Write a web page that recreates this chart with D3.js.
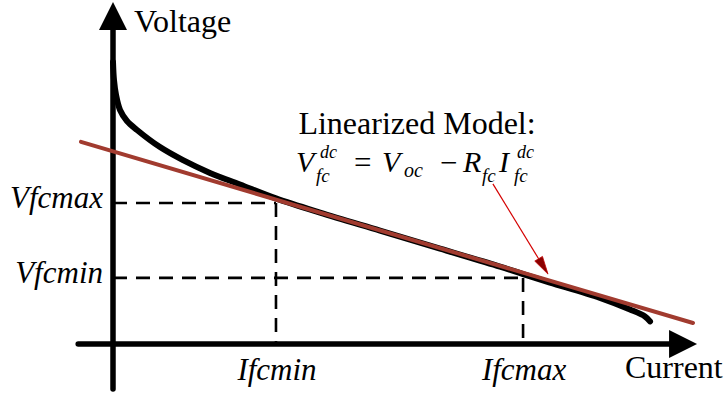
<!DOCTYPE html>
<html>
<head>
<meta charset="utf-8">
<script src="https://cdn.jsdelivr.net/npm/d3@7/dist/d3.min.js"></script>
<style>
  html, body { margin: 0; padding: 0; background: #fff; }
  svg { display: block; }
</style>
</head>
<body>
<svg id="chart" width="725" height="396" font-family="'Liberation Serif', 'Times New Roman', serif"></svg>
<script>
// Fuel-cell polarization curve (current vs. voltage, arbitrary units)
const curveCurrent = [0, 0.17, 0.52, 1.21, 2.41, 4.14, 8.10, 12.07, 16.72, 21.90, 28.10, 35.69, 46.03, 56.38, 66.72, 70.69, 75.34, 83.97, 89.14, 91.72, 92.59];
const curveVoltage = [97.2, 91.0, 85.9, 80.7, 76.9, 73.8, 67.9, 63.4, 59.0, 55.0, 50.2, 45.3, 39.1, 32.9, 26.7, 24.1, 21.2, 15.9, 11.9, 9.5, 7.8];

// Linearized model endpoints
const modelCurrent = [-5.52, 100];
const modelVoltage = [69.7, 7.24];

// Operating window tick labels
const voltageTickLabels = ["Vfcmax", "Vfcmin"];
const voltageTickValues = [48.6, 22.8];
const currentTickLabels = ["Ifcmin", "Ifcmax"];
const currentTickValues = [28.1, 70.7];

// Axis extents (data units)
const currentAxisExtent = [-6, 100.7];
const voltageAxisExtent = [-15.5, 117.9];

// Annotation arrow (data units): from label down to the model line
const pointerCurrent = [65.5, 75.0];
const pointerVoltage = [55.2, 24.1];

const svg = d3.select("#chart");

const x = d3.scaleLinear().domain([0, 100]).range([113, 693]);
const y = d3.scaleLinear().domain([0, 100]).range([344, 54]);

// ---- dashed guide lines for the operating window
const guides = svg.append("g")
  .attr("stroke", "#000")
  .attr("stroke-width", 2.6)
  .attr("stroke-dasharray", "14,9")
  .attr("fill", "none");

voltageTickValues.forEach((v, i) => {
  const c = currentTickValues[i];
  guides.append("line")
    .attr("x1", x(0)).attr("x2", x(c))
    .attr("y1", y(v)).attr("y2", y(v));
  guides.append("line")
    .attr("x1", x(c)).attr("x2", x(c))
    .attr("y1", y(v)).attr("y2", y(0));
});

// ---- axes with arrowheads
const axes = svg.append("g");
const axisWidth = 5.5;
const headLen = 28, headHalf = 14;

axes.append("line")
  .attr("x1", x(currentAxisExtent[0])).attr("x2", x(currentAxisExtent[1]) - headLen + 2)
  .attr("y1", y(0)).attr("y2", y(0))
  .attr("stroke", "#000").attr("stroke-width", axisWidth).attr("stroke-linecap", "round");
axes.append("path")
  .attr("d", `M${x(currentAxisExtent[1])},${y(0)} L${x(currentAxisExtent[1]) - headLen},${y(0) - headHalf} L${x(currentAxisExtent[1]) - headLen},${y(0) + headHalf} Z`)
  .attr("fill", "#000");

axes.append("line")
  .attr("x1", x(0)).attr("x2", x(0))
  .attr("y1", y(voltageAxisExtent[0])).attr("y2", y(voltageAxisExtent[1]) + headLen - 2)
  .attr("stroke", "#000").attr("stroke-width", axisWidth).attr("stroke-linecap", "round");
axes.append("path")
  .attr("d", `M${x(0)},${y(voltageAxisExtent[1])} L${x(0) - headHalf},${y(voltageAxisExtent[1]) + headLen} L${x(0) + headHalf},${y(voltageAxisExtent[1]) + headLen} Z`)
  .attr("fill", "#000");

// ---- polarization curve
const curveData = curveCurrent.map((c, i) => [c, curveVoltage[i]]);
const line = d3.line()
  .x(d => x(d[0]))
  .y(d => y(d[1]))
  .curve(d3.curveCatmullRom.alpha(0.5));

svg.append("path")
  .datum(curveData)
  .attr("d", line)
  .attr("fill", "none")
  .attr("stroke", "#000")
  .attr("stroke-width", 6)
  .attr("stroke-linecap", "round")
  .attr("stroke-linejoin", "round");

// ---- linearized model
const modelData = modelCurrent.map((c, i) => [c, modelVoltage[i]]);
svg.append("path")
  .datum(modelData)
  .attr("d", d3.line().x(d => x(d[0])).y(d => y(d[1])))
  .attr("fill", "none")
  .attr("stroke", "#a13b2f")
  .attr("stroke-width", 4)
  .attr("stroke-linecap", "round");

// ---- tick labels
svg.append("g").selectAll("text")
  .data(voltageTickLabels)
  .join("text")
  .attr("x", x(0) - 10)
  .attr("y", (d, i) => y(voltageTickValues[i]) + 5)
  .attr("text-anchor", "end")
  .attr("font-size", 31)
  .attr("font-style", "italic")
  .text(d => d);

svg.append("g").selectAll("text")
  .data(currentTickLabels)
  .join("text")
  .attr("x", (d, i) => x(currentTickValues[i]) + 1)
  .attr("y", y(0) + 36)
  .attr("text-anchor", "middle")
  .attr("font-size", 31)
  .attr("font-style", "italic")
  .text(d => d);

// ---- axis titles
svg.append("text")
  .attr("x", 134).attr("y", 32)
  .attr("font-size", 32)
  .text("Voltage");

svg.append("text")
  .attr("x", 625).attr("y", 378)
  .attr("font-size", 32)
  .text("Current");

// ---- model annotation
svg.append("text")
  .attr("x", 417).attr("y", 134)
  .attr("text-anchor", "middle")
  .attr("font-size", 32)
  .text("Linearized Model:");

// Equation V_fc^dc = V_oc - R_fc I_fc^dc, one text element with placed tspans
const parts = [
  { t: "V", x: 296, y: 172, s: 30 },
  { t: "dc", x: 320, y: 158, s: 18 },
  { t: "fc", x: 316, y: 182, s: 19 },
  { t: "=", x: 354, y: 173, s: 31, up: true },
  { t: "V", x: 382, y: 172, s: 30 },
  { t: "oc", x: 404, y: 177, s: 20 },
  { t: "\u2212", x: 440, y: 173, s: 31, up: true },
  { t: "R", x: 463, y: 172, s: 30 },
  { t: "fc", x: 482, y: 182, s: 19 },
  { t: "I", x: 499, y: 172, s: 30 },
  { t: "dc", x: 517, y: 158, s: 18 },
  { t: "fc", x: 514, y: 182, s: 19 }
];
const eq = svg.append("text");
parts.forEach(p => {
  eq.append("tspan")
    .attr("x", p.x).attr("y", p.y)
    .attr("font-size", p.s)
    .attr("font-style", p.up ? "normal" : "italic")
    .text(p.t);
});

// ---- pointer arrow from annotation to the model line
const px0 = x(pointerCurrent[0]), py0 = y(pointerVoltage[0]);
const px1 = x(pointerCurrent[1]), py1 = y(pointerVoltage[1]);
const ang = Math.atan2(py1 - py0, px1 - px0);
const aLen = 18, aHalf = 4.5;
const bx = px1 - aLen * Math.cos(ang), by = py1 - aLen * Math.sin(ang);
svg.append("line")
  .attr("x1", px0).attr("y1", py0)
  .attr("x2", bx).attr("y2", by)
  .attr("stroke", "#d40000").attr("stroke-width", 1.2);
svg.append("path")
  .attr("d", `M${px1},${py1} L${bx - aHalf * Math.sin(ang)},${by + aHalf * Math.cos(ang)} L${bx + aHalf * Math.sin(ang)},${by - aHalf * Math.cos(ang)} Z`)
  .attr("fill", "#8a0000")
  .attr("stroke", "#c00000").attr("stroke-width", 0.8);
</script>
</body>
</html>
